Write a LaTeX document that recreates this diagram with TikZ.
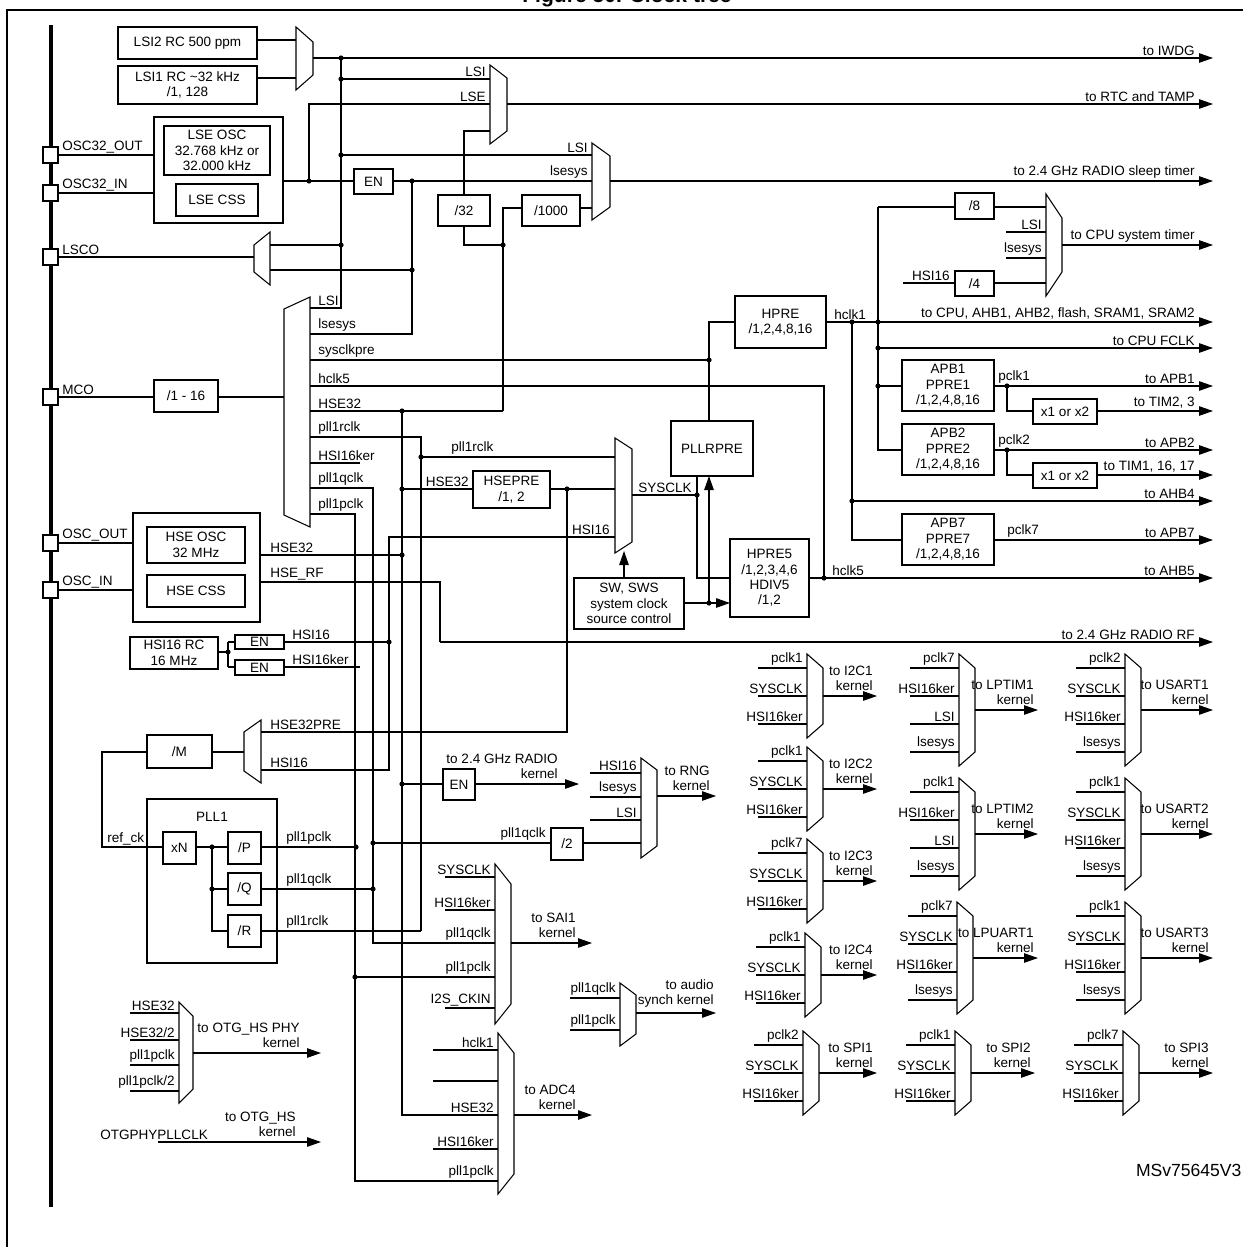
\documentclass[tikz,border=0pt]{standalone}
\usepackage{fontspec}
\setmainfont{Liberation Sans}
\usetikzlibrary{arrows.meta,fit}
\newcommand\fs{\fontsize{7.7}{8.8}\selectfont}
% box with text, given by two corners
\newcommand\blk[4]{\node[blk,fit={(#2)(#3)}] (#1) {}; \node[lbl,align=center] at (#1.center) {#4};}
% mux, inputs on the left
\newcommand\muxr[5]{\draw (#1,#2) -- (#1+#3,#2+#5) -- (#1+#3,#2+#4-#5) -- (#1,#2+#4) -- cycle;}
% mux, inputs on the right
\newcommand\muxl[5]{\draw (#1+#3,#2) -- (#1,#2+#5) -- (#1,#2+#4-#5) -- (#1+#3,#2+#4) -- cycle;}
\newcommand\dt[1]{\fill (#1) circle (2.6);}
\newcommand\pin[3]{\draw[fill=white] (43,#1-8) rectangle (58,#1+8); \node[lbl,anchor=south west] at (60,#1) {#2};}
\newcommand\tolbl[2]{\node[lbl,anchor=south east] at (1197,#1) {#2};}
% kernel mux: x, top, labels, output text, arrow end
\newcommand\kmux[5]{%
 \foreach \t [count=\i] in {#3} {
  \draw (#1-49,#2+28*\i-14) -- (#1,#2+28*\i-14);
  \node[lbl,anchor=south east] at (#1-2,#2+28*\i-14) {\t};
  \xdef\nin{\i}}
 \pgfmathsetmacro\hh{28*\nin}
 \muxr{#1}{#2}{16}{\hh}{14}
 \draw[->] (#1+16,#2+\hh/2) -- (#5,#2+\hh/2);
 \node[lbl,anchor=south east,align=right] at (#5-2,#2+\hh/2-3) {#4};}
\tikzset{
 blk/.style={draw,inner sep=0},
 lbl/.style={inner sep=1pt,font=\fs},
 >={Triangle[length=2.8mm,width=1.9mm]}
}
\begin{document}
\begin{tikzpicture}[x=0.02cm,y=-0.02cm,line width=0.6pt]
\useasboundingbox (0,0) rectangle (1242,1247);
\node[font=\bfseries\fontsize{12}{14}\selectfont,anchor=south,inner sep=0] (title) at (627,7) {Figure 50. Clock tree};
\draw (7,10) rectangle (1260,1270);
\draw[line width=1.8pt] (51,25) -- (51,1207);
\pin{155}{OSC32\_OUT}{}
\pin{193}{OSC32\_IN}{}
\pin{257}{LSCO}{}
\pin{397}{MCO}{}
\pin{543}{OSC\_OUT}{}
\pin{590}{OSC\_IN}{}

% LSI and LSE
\blk{lsitwo}{118,27}{257,59}{LSI2 RC 500 ppm}
\blk{lsione}{118,66}{257,104}{LSI1 RC \textasciitilde32 kHz\\/1, 128}
\draw (257,40) -- (296,40) (257,78) -- (296,78);
\muxr{296}{27}{17}{63}{15}
\draw[->] (313,58) -- (1213,58); \tolbl{58}{to IWDG}
\draw (341,58) -- (341,308) -- (310,308);
\dt{341,58} \dt{341,79} \dt{341,155} \dt{341,245}
\draw (341,79) -- (490,79); \node[lbl,anchor=south east] at (488,79) {LSI};
\muxr{490}{65}{17}{79}{13}
\draw[->] (507,104) -- (1213,104); \tolbl{104}{to RTC and TAMP}
\blk{lseosc}{154,117}{283,223}{}
\blk{lse}{164,126}{270,175}{LSE OSC\\32.768 kHz or\\32.000 kHz}
\blk{lsecss}{176,184}{258,216}{LSE CSS}
\draw (58,155) -- (154,155) (58,193) -- (154,193);
\draw (283,181) -- (354,181);
\blk{enlse}{354,169}{393,194}{EN}
\draw (393,181) -- (592,181);
\dt{309,181} \dt{412,181}
\draw (309,181) -- (309,104) -- (490,104); \node[lbl,anchor=south east] at (488,104) {LSE};
\draw (341,155) -- (592,155); \node[lbl,anchor=south east] at (590,155) {LSI};
\node[lbl,anchor=south east] at (590,181) {lsesys};
\muxr{592}{143}{18}{77}{13}
\draw[->] (610,181) -- (1213,181); \tolbl{181}{to 2.4 GHz RADIO sleep timer}
\draw (490,131) -- (464,131) -- (464,195);
\blk{divtt}{438,195}{490,226}{/32}
\draw (464,226) -- (464,245) -- (503,245); \dt{503,245}
\blk{divk}{522,195}{580,226}{/1000}
\draw (503,411) -- (503,208) -- (522,208) (580,208) -- (592,208);
\muxl{254}{232}{16}{53}{13}
\draw (341,245) -- (270,245) (412,270) -- (270,270) (254,257) -- (58,257);
\draw (412,181) -- (412,334) -- (310,334); \dt{412,270}

% MCO
\muxl{284}{297}{26}{230}{12}
\blk{mcodiv}{154,380}{218,412}{/1 - 16}
\draw (284,397) -- (218,397) (154,397) -- (58,397);
\foreach \y/\t in {308/LSI,334/lsesys,360/sysclkpre,386/hclk5,411/HSE32,437/pll1rclk,463/HSI16ker,488/pll1qclk,514/pll1pclk}
 \node[lbl,anchor=south west] at (316,\y) {\t};
\draw (310,360) -- (709,360); \dt{709,360}
\draw (310,386) -- (824,386) -- (824,578);
\draw (310,411) -- (503,411);
\draw (310,437) -- (421,437) -- (421,931);
\draw (310,463) -- (360,463);
\draw (310,488) -- (373,488) -- (373,943) -- (495,943);
\draw (310,514) -- (355,514) -- (355,1181) -- (498,1181);
\draw (402,411) -- (402,1115) -- (498,1115);
\dt{402,411} \dt{402,489} \dt{402,555} \dt{402,784}

% system clock
\draw (402,489) -- (473,489); \node[lbl,anchor=south east] at (471,489) {HSE32};
\blk{hsepre}{473,471}{550,508}{HSEPRE\\/1, 2}
\draw (550,489) -- (615,489); \dt{567,489}
\draw (567,489) -- (567,732) -- (261,732); \node[lbl,anchor=south west] at (268,732) {HSE32PRE};
\dt{421,457} \draw (421,457) -- (615,457); \node[lbl,anchor=south west] at (449,457) {pll1rclk};
\draw (615,537) -- (389,537) -- (389,770) -- (261,770); \dt{389,642}
\node[lbl,anchor=south east] at (612,537) {HSI16}; \node[lbl,anchor=south west] at (268,770) {HSI16};
\muxr{615}{438}{17}{115}{11}
\draw (632,495) -- (697,495); \node[lbl,anchor=south west] at (636,495) {SYSCLK}; \dt{697,495}
\blk{pllrpre}{671,421}{753,476}{PLLRPRE}
\draw (697,476) -- (697,578) -- (730,578);
\draw (709,421) -- (709,322) -- (735,322);
\blk{sw}{574,578}{684,629}{SW, SWS\\system clock\\source control}
\draw[->] (624,578) -- (624,551);
\draw[->] (684,603) -- (730,603); \dt{709,603}
\draw[->] (709,603) -- (709,476);
\blk{hprefive}{730,539}{809,617}{HPRE5\\/1,2,3,4,6\\HDIV5\\/1,2}
\draw[->] (809,578) -- (1213,578); \dt{824,578}
\node[lbl,anchor=south west] at (830,578) {hclk5}; \tolbl{578}{to AHB5}

% bus clocks
\blk{hpre}{735,296}{826,348}{HPRE\\/1,2,4,8,16}
\draw[->] (826,322) -- (1213,322); \node[lbl,anchor=south west] at (832,322) {hclk1};
\tolbl{322}{to CPU, AHB1, AHB2, flash, SRAM1, SRAM2}
\dt{852,322} \dt{878,322}
\draw (878,207) -- (878,450) -- (902,450);
\blk{diveight}{955,193}{994,219}{/8}
\draw (878,207) -- (955,207) (994,207) -- (1046,207);
\muxr{1046}{194}{16}{102}{24}
\draw (1006,232) -- (1046,232) (1006,258) -- (1046,258);
\node[lbl,anchor=south east] at (1044,232) {LSI}; \node[lbl,anchor=south east] at (1044,258) {lsesys};
\blk{divfour}{955,271}{994,296}{/4}
\draw (903,283) -- (955,283) (994,283) -- (1046,283); \node[lbl,anchor=south east] at (952,283) {HSI16};
\draw[->] (1062,245) -- (1213,245); \tolbl{245}{to CPU system timer}
\dt{878,348} \draw[->] (878,348) -- (1213,348); \tolbl{348}{to CPU FCLK}
\blk{apbone}{902,360}{994,411}{APB1\\PPRE1\\/1,2,4,8,16}
\dt{878,386} \draw (878,386) -- (902,386);
\draw[->] (994,386) -- (1213,386); \node[lbl,anchor=south west] at (996,386) {pclk1}; \tolbl{386}{to APB1}
\dt{1007,386} \draw (1007,386) -- (1007,411) -- (1033,411);
\blk{timone}{1033,399}{1097,424}{x1 or x2}
\draw[->] (1097,411) -- (1213,411); \tolbl{411}{to TIM2, 3}
\blk{apbtwo}{902,424}{994,475}{APB2\\PPRE2\\/1,2,4,8,16}
\draw[->] (994,450) -- (1213,450); \node[lbl,anchor=south west] at (996,450) {pclk2}; \tolbl{450}{to APB2}
\dt{1007,450} \draw (1007,450) -- (1007,475) -- (1033,475);
\blk{timtwo}{1033,463}{1097,488}{x1 or x2}
\draw[->] (1097,475) -- (1213,475); \tolbl{475}{to TIM1, 16, 17}
\draw (852,322) -- (852,540) -- (902,540);
\dt{852,501} \draw[->] (852,501) -- (1213,501); \tolbl{501}{to AHB4}
\blk{apbseven}{902,514}{994,565}{APB7\\PPRE7\\/1,2,4,8,16}
\draw[->] (994,540) -- (1213,540); \node[lbl,anchor=south west] at (1005,540) {pclk7}; \tolbl{540}{to APB7}

% HSE and HSI16
\blk{hseosc}{133,513}{260,622}{}
\blk{hse}{147,527}{245,563}{HSE OSC\\32 MHz}
\blk{hsecss}{147,575}{245,607}{HSE CSS}
\draw (58,543) -- (133,543) (58,590) -- (133,590);
\draw (260,555) -- (402,555); \node[lbl,anchor=south west] at (268,555) {HSE32};
\draw (260,582) -- (440,582) -- (440,642); \node[lbl,anchor=south west] at (268,582) {HSE\_RF};
\draw[->] (440,642) -- (1213,642); \tolbl{642}{to 2.4 GHz RADIO RF}
\blk{hsi}{130,637}{218,669}{HSI16 RC\\16 MHz}
\draw (218,652) -- (228,652) (228,642) -- (228,667); \dt{228,652}
\draw (228,642) -- (235,642) (228,667) -- (235,667);
\blk{enhsi}{235,635}{284,649}{EN}
\blk{enhsiker}{235,660}{284,675}{EN}
\draw (284,642) -- (389,642); \node[lbl,anchor=south west] at (290,642) {HSI16};
\draw (284,667) -- (360,667); \node[lbl,anchor=south west] at (290,667) {HSI16ker};

% PLL1
\muxl{244}{720}{17}{63}{12}
\blk{divm}{147,735}{212,768}{/M}
\draw (244,752) -- (212,752) (147,752) -- (102,752) -- (102,847) -- (163,847);
\node[lbl,anchor=south west] at (105,847) {ref\_ck};
\blk{pll}{147,799}{277,963}{}
\node[lbl] at (212,817) {PLL1};
\blk{xn}{163,832}{196,864}{xN}
\blk{divp}{228,832}{261,864}{/P}
\blk{divq}{228,873}{261,905}{/Q}
\blk{divr}{228,915}{261,947}{/R}
\draw (196,847) -- (228,847) (212,847) -- (212,931) -- (228,931) (212,889) -- (228,889);
\dt{212,847} \dt{212,889}
\draw (261,847) -- (356,847); \node[lbl,anchor=south west] at (284,847) {pll1pclk}; \dt{356,847}
\draw (261,889) -- (373,889); \node[lbl,anchor=south west] at (284,889) {pll1qclk}; \dt{373,889}
\draw (261,931) -- (421,931); \node[lbl,anchor=south west] at (284,931) {pll1rclk};
\dt{373,843} \draw (373,843) -- (551,843); \node[lbl,anchor=south east] at (548,843) {pll1qclk};
\blk{divtwo}{551,828}{583,860}{/2}
\draw (583,843) -- (641,843);

% radio, RNG, SAI1, ADC4, audio, OTG
\draw (402,784) -- (443,784);
\blk{enradio}{443,769}{475,800}{EN}
\draw[->] (475,784) -- (579,784);
\node[lbl,anchor=south east,align=right] at (560,781) {to 2.4 GHz RADIO\\kernel};
\muxr{641}{758}{16}{100}{12}
\foreach \y/\t in {773/HSI16,797/lsesys,820/LSI} {\draw (590,\y) -- (641,\y); \node[lbl,anchor=south east] at (639,\y) {\t};}
\draw[->] (657,796) -- (716,796); \node[lbl,anchor=south east,align=right] at (712,793) {to RNG\\kernel};
\muxr{495}{864}{16}{160}{20}
\foreach \y/\t in {877/SYSCLK,910/HSI16ker,943/pll1qclk,977/pll1pclk,1008/I2S\_CKIN} {\draw (445,\y) -- (495,\y); \node[lbl,anchor=south east] at (493,\y) {\t};}
\dt{355,977} \draw (355,977) -- (445,977);
\draw[->] (511,943) -- (592,943); \node[lbl,anchor=south east,align=right] at (578,940) {to SAI1\\kernel};
\muxr{498}{1033}{16}{161}{20}
\foreach \y/\t in {1050/hclk1,1081/,1115/HSE32,1149/HSI16ker,1181/pll1pclk} {\draw (433,\y) -- (498,\y); \node[lbl,anchor=south east] at (496,\y) {\t};}
\draw[->] (514,1115) -- (592,1115); \node[lbl,anchor=south east,align=right] at (578,1112) {to ADC4\\kernel};
\muxr{620}{983}{16}{63}{12}
\foreach \y/\t in {998/pll1qclk,1030/pll1pclk} {\draw (570,\y) -- (620,\y); \node[lbl,anchor=south east] at (618,\y) {\t};}
\draw[->] (636,1013) -- (716,1013); \node[lbl,anchor=south east,align=right] at (716,1010) {to audio\\synch kernel};
\muxr{179}{1002}{14}{101}{14}
\foreach \y/\t in {1013/HSE32,1040/{HSE32/2},1065/pll1pclk,1091/{pll1pclk/2}} {\draw (130,\y) -- (179,\y); \node[lbl,anchor=south east] at (177,\y) {\t};}
\draw[->] (193,1053) -- (321,1053); \node[lbl,anchor=south east,align=right] at (302,1050) {to OTG\_HS PHY\\kernel};
\node[lbl,anchor=south west] at (98,1142) {OTGPHYPLLCLK};
\draw[->] (158,1142) -- (321,1142); \node[lbl,anchor=south east,align=right] at (298,1139) {to OTG\_HS\\kernel};

% peripheral kernel clocks
\kmux{807}{654}{pclk1,SYSCLK,HSI16ker}{to I2C1\\kernel}{877}
\kmux{807}{747}{pclk1,SYSCLK,HSI16ker}{to I2C2\\kernel}{877}
\kmux{807}{839}{pclk7,SYSCLK,HSI16ker}{to I2C3\\kernel}{877}
\kmux{805}{933}{pclk1,SYSCLK,HSI16ker}{to I2C4\\kernel}{877}
\kmux{803}{1031}{pclk2,SYSCLK,HSI16ker}{to SPI1\\kernel}{877}
\kmux{959}{654}{pclk7,HSI16ker,LSI,lsesys}{to LPTIM1\\kernel}{1038}
\kmux{959}{778}{pclk1,HSI16ker,LSI,lsesys}{to LPTIM2\\kernel}{1038}
\kmux{957}{902}{pclk7,SYSCLK,HSI16ker,lsesys}{to LPUART1\\kernel}{1038}
\kmux{955}{1031}{pclk1,SYSCLK,HSI16ker}{to SPI2\\kernel}{1035}
\kmux{1125}{654}{pclk2,SYSCLK,HSI16ker,lsesys}{to USART1\\kernel}{1213}
\kmux{1125}{778}{pclk1,SYSCLK,HSI16ker,lsesys}{to USART2\\kernel}{1213}
\kmux{1125}{902}{pclk1,SYSCLK,HSI16ker,lsesys}{to USART3\\kernel}{1213}
\kmux{1123}{1031}{pclk7,SYSCLK,HSI16ker}{to SPI3\\kernel}{1213}
\node[font=\fontsize{10}{12}\selectfont,anchor=east,inner sep=0] (ref) at (1242,1170) {MSv75645V3};
\end{tikzpicture}
\end{document}
